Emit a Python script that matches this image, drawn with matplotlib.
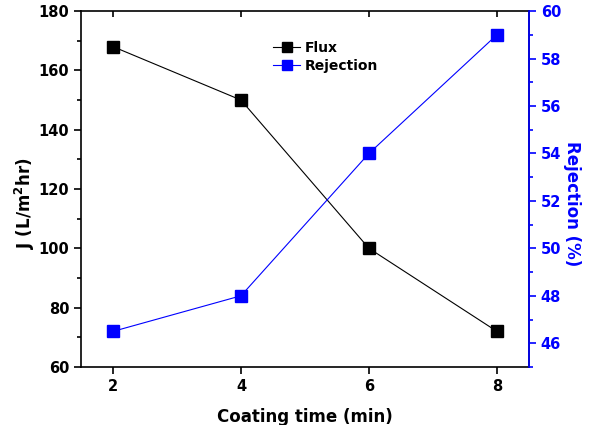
import numpy as np
import matplotlib
matplotlib.use("Agg")
import matplotlib.pyplot as plt
from matplotlib.ticker import MultipleLocator

plt.rcParams['font.family'] = ['DejaVu Sans']
plt.rcParams['font.weight'] = 'bold'

# coating time vs. flux / rejection
coating_time = [2, 4, 6, 8]
flux = [168, 150, 100, 72]
rejection = [46.5, 48, 54, 59]

fig = plt.figure(figsize=(5.89, 4.25), dpi=100)
ax1 = fig.add_axes([0.1375, 0.1365, 0.7605, 0.8375])
ax2 = ax1.twinx()

l1, = ax1.plot(coating_time, flux, color='black', lw=0.8, marker='s', ms=9,
               label='Flux')
l2, = ax2.plot(coating_time, rejection, color='blue', lw=0.8, marker='s', ms=9,
               label='Rejection')

ax1.set_xlim(1.5, 8.5)
ax1.set_ylim(60, 180)
ax2.set_ylim(45, 60)
ax1.set_xticks([2, 4, 6, 8])
ax1.yaxis.set_major_locator(MultipleLocator(20))
ax1.yaxis.set_minor_locator(MultipleLocator(10))
ax2.yaxis.set_major_locator(MultipleLocator(2))
ax2.yaxis.set_minor_locator(MultipleLocator(1))

for sp in ax1.spines.values():
    sp.set_linewidth(1.2)
ax2.spines['right'].set_color('blue')
ax2.spines['right'].set_linewidth(1.2)
for sp in ['left', 'top', 'bottom']:
    ax2.spines[sp].set_visible(False)

ax1.tick_params(axis='both', which='major', direction='out', length=5, width=1.2,
                labelsize=10.5)
ax1.tick_params(axis='y', which='minor', direction='out', length=3, width=1.2)
ax2.tick_params(axis='y', which='major', direction='out', length=5, width=1.2,
                colors='blue', labelsize=10.5)
ax2.tick_params(axis='y', which='minor', direction='out', length=3, width=1.2,
                colors='blue')
# top ticks point inward
axt = ax1.twiny()
axt.set_xlim(ax1.get_xlim())
axt.set_xticks([2, 4, 6, 8])
axt.set_xticklabels([])
axt.tick_params(axis='x', direction='in', length=4, width=1.2)
for sp in axt.spines.values():
    sp.set_visible(False)

for lab in ax1.get_xticklabels() + ax1.get_yticklabels() + ax2.get_yticklabels():
    lab.set_fontweight('bold')

ax1.set_xlabel('Coating time (min)', fontsize=12, fontweight='bold', labelpad=10)
ax1.set_ylabel('J (L/m$^\\mathbf{2}$hr)', fontsize=12, fontweight='bold',
               va='center')
ax1.yaxis.set_label_coords(-0.125, 0.46)
ax2.set_ylabel('Rejection (%)', fontsize=12, fontweight='bold', color='blue',
               rotation=270, va='center')
ax2.yaxis.set_label_coords(1.096, 0.46)

ax1.legend([l1, l2], ['Flux', 'Rejection'], loc='upper left',
           bbox_to_anchor=(0.4, 0.95), frameon=False,
           handlelength=2.0, handletextpad=0.3, labelspacing=0.25,
           markerscale=0.8, prop={'weight': 'bold', 'size': 10})

fig.savefig('out.png', dpi=100)
